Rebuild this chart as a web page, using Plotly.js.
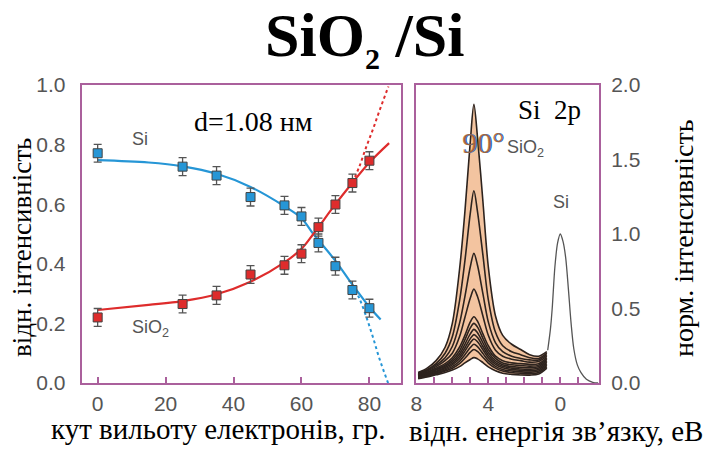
<!DOCTYPE html>
<html><head><meta charset="utf-8">
<script src="https://cdn.plot.ly/plotly-3.0.1.min.js"></script>
<style>body{margin:0;background:#fff}#chart{width:711px;height:450px}</style>
</head><body><div id="chart"></div>
<script>
// ---- left panel: relative intensity vs emission angle ----
const angles = [0, 25, 35, 45, 55, 60, 65, 70, 75, 80];
const siPoints = [0.771, 0.726, 0.696, 0.624, 0.596, 0.559, 0.47, 0.392, 0.312, 0.251];
const sio2Points = [0.22, 0.265, 0.294, 0.364, 0.395, 0.434, 0.523, 0.599, 0.671, 0.746];
const pointErr = [0.03, 0.03, 0.03, 0.03, 0.03, 0.03, 0.03, 0.03, 0.03, 0.03];

const siFitX = [0, 15, 25, 35, 45, 55, 60, 63.5, 70, 75, 80, 83.3];
const siFitY = [0.748, 0.74, 0.727, 0.702, 0.658, 0.593, 0.553, 0.5, 0.41, 0.33, 0.255, 0.213];
const siDotX = [75, 77, 79, 81, 83, 85.5];
const siDotY = [0.33, 0.285, 0.225, 0.155, 0.08, 0.0];
const sio2FitX = [0, 15, 25, 35, 45, 55, 60, 63.5, 70, 75, 80, 85.8];
const sio2FitY = [0.245, 0.262, 0.275, 0.298, 0.34, 0.405, 0.45, 0.5, 0.6, 0.672, 0.74, 0.805];
const sio2DotX = [75, 77, 79, 81, 83, 85.6];
const sio2DotY = [0.672, 0.725, 0.79, 0.85, 0.915, 0.995];

// ---- right panel: Si 2p spectra ----
const energy = [7.9, 7.4, 6.9, 6.4, 6.0, 5.6, 5.3, 5.0, 4.8, 4.6, 4.3, 4.0, 3.6, 3.2, 2.7, 2.2, 1.7, 1.2, 0.75];
const spec01 = [0.07, 0.10, 0.15, 0.24, 0.40, 0.76, 1.15, 1.62, 1.87, 1.65, 1.22, 0.78, 0.45, 0.32, 0.26, 0.225, 0.19, 0.18, 0.21];
const spec02 = [0.065, 0.09, 0.13, 0.20, 0.31, 0.55, 0.82, 1.14, 1.29, 1.15, 0.86, 0.56, 0.34, 0.25, 0.21, 0.19, 0.17, 0.165, 0.20];
const spec03 = [0.06, 0.085, 0.12, 0.17, 0.245, 0.40, 0.58, 0.78, 0.87, 0.79, 0.60, 0.41, 0.27, 0.21, 0.18, 0.165, 0.155, 0.155, 0.19];
const spec04 = [0.055, 0.08, 0.11, 0.15, 0.20, 0.31, 0.44, 0.57, 0.63, 0.58, 0.45, 0.32, 0.22, 0.18, 0.16, 0.15, 0.14, 0.145, 0.18];
const spec05 = [0.05, 0.072, 0.10, 0.13, 0.17, 0.24, 0.32, 0.41, 0.445, 0.415, 0.33, 0.25, 0.18, 0.15, 0.135, 0.13, 0.125, 0.13, 0.17];
const spec06 = [0.047, 0.068, 0.093, 0.12, 0.155, 0.215, 0.29, 0.37, 0.40, 0.375, 0.30, 0.225, 0.165, 0.135, 0.122, 0.117, 0.113, 0.12, 0.16];
const spec07 = [0.044, 0.063, 0.087, 0.112, 0.143, 0.195, 0.26, 0.33, 0.36, 0.338, 0.27, 0.205, 0.15, 0.123, 0.11, 0.105, 0.102, 0.11, 0.15];
const spec08 = [0.041, 0.058, 0.08, 0.104, 0.132, 0.178, 0.235, 0.298, 0.325, 0.305, 0.245, 0.187, 0.137, 0.112, 0.10, 0.094, 0.092, 0.10, 0.14];
const spec09 = [0.038, 0.054, 0.074, 0.096, 0.122, 0.163, 0.214, 0.27, 0.295, 0.277, 0.223, 0.17, 0.125, 0.102, 0.09, 0.085, 0.083, 0.09, 0.13];
const spec10 = [0.035, 0.05, 0.068, 0.088, 0.11, 0.146, 0.19, 0.238, 0.26, 0.244, 0.198, 0.152, 0.112, 0.091, 0.08, 0.075, 0.073, 0.08, 0.12];
const spec11 = [0.032, 0.045, 0.062, 0.08, 0.099, 0.13, 0.166, 0.207, 0.225, 0.212, 0.173, 0.134, 0.10, 0.08, 0.07, 0.065, 0.063, 0.07, 0.11];
const spec12 = [0.028, 0.04, 0.055, 0.07, 0.087, 0.11, 0.135, 0.158, 0.17, 0.162, 0.137, 0.108, 0.082, 0.066, 0.058, 0.054, 0.053, 0.06, 0.10];
const siPeakX = [0.7, 0.55, 0.45, 0.3, 0.15, 0, -0.15, -0.3, -0.45, -0.6, -0.75, -0.95, -1.15, -1.45, -1.8, -2.1];
const siPeakY = [0.22, 0.36, 0.5, 0.78, 0.94, 1.0, 0.95, 0.84, 0.63, 0.40, 0.23, 0.12, 0.07, 0.025, 0.005, 0.0];

const leftTicks = [0, 20, 40, 60, 80];
const rightTickVals = [8, 7, 6, 5, 4, 3, 2, 1, 0, -1];
const rightTickText = ['8', '', '', '', '4', '', '', '', '0', ''];

const frame = 'rgb(170,96,156)';
const blue = 'rgb(38,150,214)';
const red = 'rgb(222,44,44)';
const W = 711, H = 450;
const px = x => x / W, py = y => 1 - y / H;

const traces = [];
traces.push({x: siDotX, y: siDotY, mode: 'lines', line: {color: blue, width: 2, dash: 'dot', shape: 'spline'}, xaxis: 'x', yaxis: 'y', hoverinfo: 'skip'});
traces.push({x: sio2DotX, y: sio2DotY, mode: 'lines', line: {color: red, width: 2, dash: 'dot', shape: 'spline'}, xaxis: 'x', yaxis: 'y', hoverinfo: 'skip'});
traces.push({x: siFitX, y: siFitY, mode: 'lines', line: {color: blue, width: 2.2, shape: 'spline'}, xaxis: 'x', yaxis: 'y'});
traces.push({x: sio2FitX, y: sio2FitY, mode: 'lines', line: {color: red, width: 2.2, shape: 'spline'}, xaxis: 'x', yaxis: 'y'});
traces.push({x: angles, y: siPoints, mode: 'markers', xaxis: 'x', yaxis: 'y',
  marker: {symbol: 'square', size: 9, color: blue, line: {color: '#444', width: 1}},
  error_y: {type: 'data', array: pointErr, visible: true, color: '#555', thickness: 1.3, width: 4}});
traces.push({x: angles, y: sio2Points, mode: 'markers', xaxis: 'x', yaxis: 'y',
  marker: {symbol: 'square', size: 9, color: red, line: {color: '#444', width: 1}},
  error_y: {type: 'data', array: pointErr, visible: true, color: '#555', thickness: 1.3, width: 4}});

// right panel
const specLine = {color: 'rgb(45,35,30)', width: 1.6, shape: 'spline', smoothing: 0.9};
traces.push({x: energy, y: spec12, mode: 'lines', line: specLine, xaxis: 'x2', yaxis: 'y2'});
traces.push({x: energy, y: spec01, mode: 'lines', line: specLine, fill: 'tonexty', fillcolor: 'rgb(243,196,160)', xaxis: 'x2', yaxis: 'y2'});
[spec02, spec03, spec04, spec05, spec06, spec07, spec08, spec09, spec10, spec11].forEach(s => {
  traces.push({x: energy, y: s, mode: 'lines', line: specLine, xaxis: 'x2', yaxis: 'y2'});
});
traces.push({x: siPeakX, y: siPeakY, mode: 'lines', line: {color: '#555', width: 1.3, shape: 'spline', smoothing: 0.8}, xaxis: 'x2', yaxis: 'y2'});

const tickFont = {family: 'Liberation Sans Narrow, Liberation Sans, Arial, sans-serif', size: 21, color: '#555'};
const serif = 'Times New Roman, Liberation Serif, DejaVu Serif, serif';
const grayLbl = {family: 'Liberation Sans, Arial, sans-serif', size: 18, color: '#555'};

function ann(x, y, text, font, extra) {
  return Object.assign({xref: 'paper', yref: 'paper', x: px(x), y: py(y), text: text, showarrow: false,
    xanchor: 'center', yanchor: 'middle', font: font}, extra || {});
}

const layout = {
  width: W, height: H, margin: {l: 0, r: 0, t: 0, b: 0},
  paper_bgcolor: '#fff', plot_bgcolor: '#fff', showlegend: false,
  xaxis: {domain: [px(81.7), px(401)], range: [-4.7, 89.3], tickvals: leftTicks, ticks: 'inside', ticklen: 6, tickcolor: frame, tickwidth: 2,
    showline: true, linecolor: frame, linewidth: 2, mirror: true, showgrid: false, zeroline: false, tickfont: tickFont, ticklabelstandoff: 1},
  yaxis: {domain: [py(383), py(85)], range: [0, 1], tickvals: [0, 0.2, 0.4, 0.6, 0.8, 1.0], ticktext: ['0.0', '0.2', '0.4', '0.6', '0.8', '1.0'],
    ticks: '', showline: true, linecolor: frame, linewidth: 2, mirror: true, showgrid: false, zeroline: false, tickfont: tickFont, ticklabelstandoff: 10},
  xaxis2: {domain: [px(416.3), px(599)], range: [8, -2.15], tickvals: rightTickVals, ticktext: rightTickText, ticks: 'inside', ticklen: 6, tickcolor: frame, tickwidth: 2,
    showline: true, linecolor: frame, linewidth: 2, mirror: true, showgrid: false, zeroline: false, tickfont: tickFont, anchor: 'y2', ticklabelstandoff: 1},
  yaxis2: {domain: [py(383), py(85)], range: [0, 2], tickvals: [0, 0.5, 1, 1.5, 2], ticktext: ['0.0', '0.5', '1.0', '1.5', '2.0'], side: 'right',
    ticks: '', showline: true, linecolor: frame, linewidth: 2, mirror: true, showgrid: false, zeroline: false, tickfont: tickFont, anchor: 'x2', ticklabelstandoff: 6},
  annotations: [
    ann(364, 38, '<b>SiO<sub><span style="font-size:30px">2</span></sub> /Si</b>', {family: serif, size: 62, color: '#000'}),
    ann(22, 248, 'відн. інтенсивність', {family: serif, size: 27, color: '#000'}, {textangle: -90}),
    ann(684, 238, 'норм. інтенсивність', {family: serif, size: 28, color: '#000'}, {textangle: -90}),
    ann(218, 429, 'кут вильоту електронів, гр.', {family: serif, size: 29, color: '#000'}),
    ann(556, 431, 'відн. енергія зв’язку, еВ', {family: serif, size: 29, color: '#000'}),
    ann(253, 122, 'd=1.08 нм', {family: serif, size: 28, color: '#000'}),
    ann(140, 139, 'Si', grayLbl),
    ann(150, 328, 'SiO<sub>2</sub>', grayLbl),
    ann(549, 110, 'Si&nbsp;&nbsp;2p', {family: serif, size: 27, color: '#000'}),
    ann(484, 142, '90°', {family: serif, size: 30, color: 'rgb(30,110,200)'}),
    ann(482.5, 142, '90°', {family: serif, size: 30, color: 'rgba(180,95,25,0.8)'}),
    ann(525, 148, 'SiO<sub>2</sub>', grayLbl),
    ann(561, 202, 'Si', grayLbl)
  ]
};
Plotly.newPlot('chart', traces, layout, {displayModeBar: false, staticPlot: true});
</script></body></html>
